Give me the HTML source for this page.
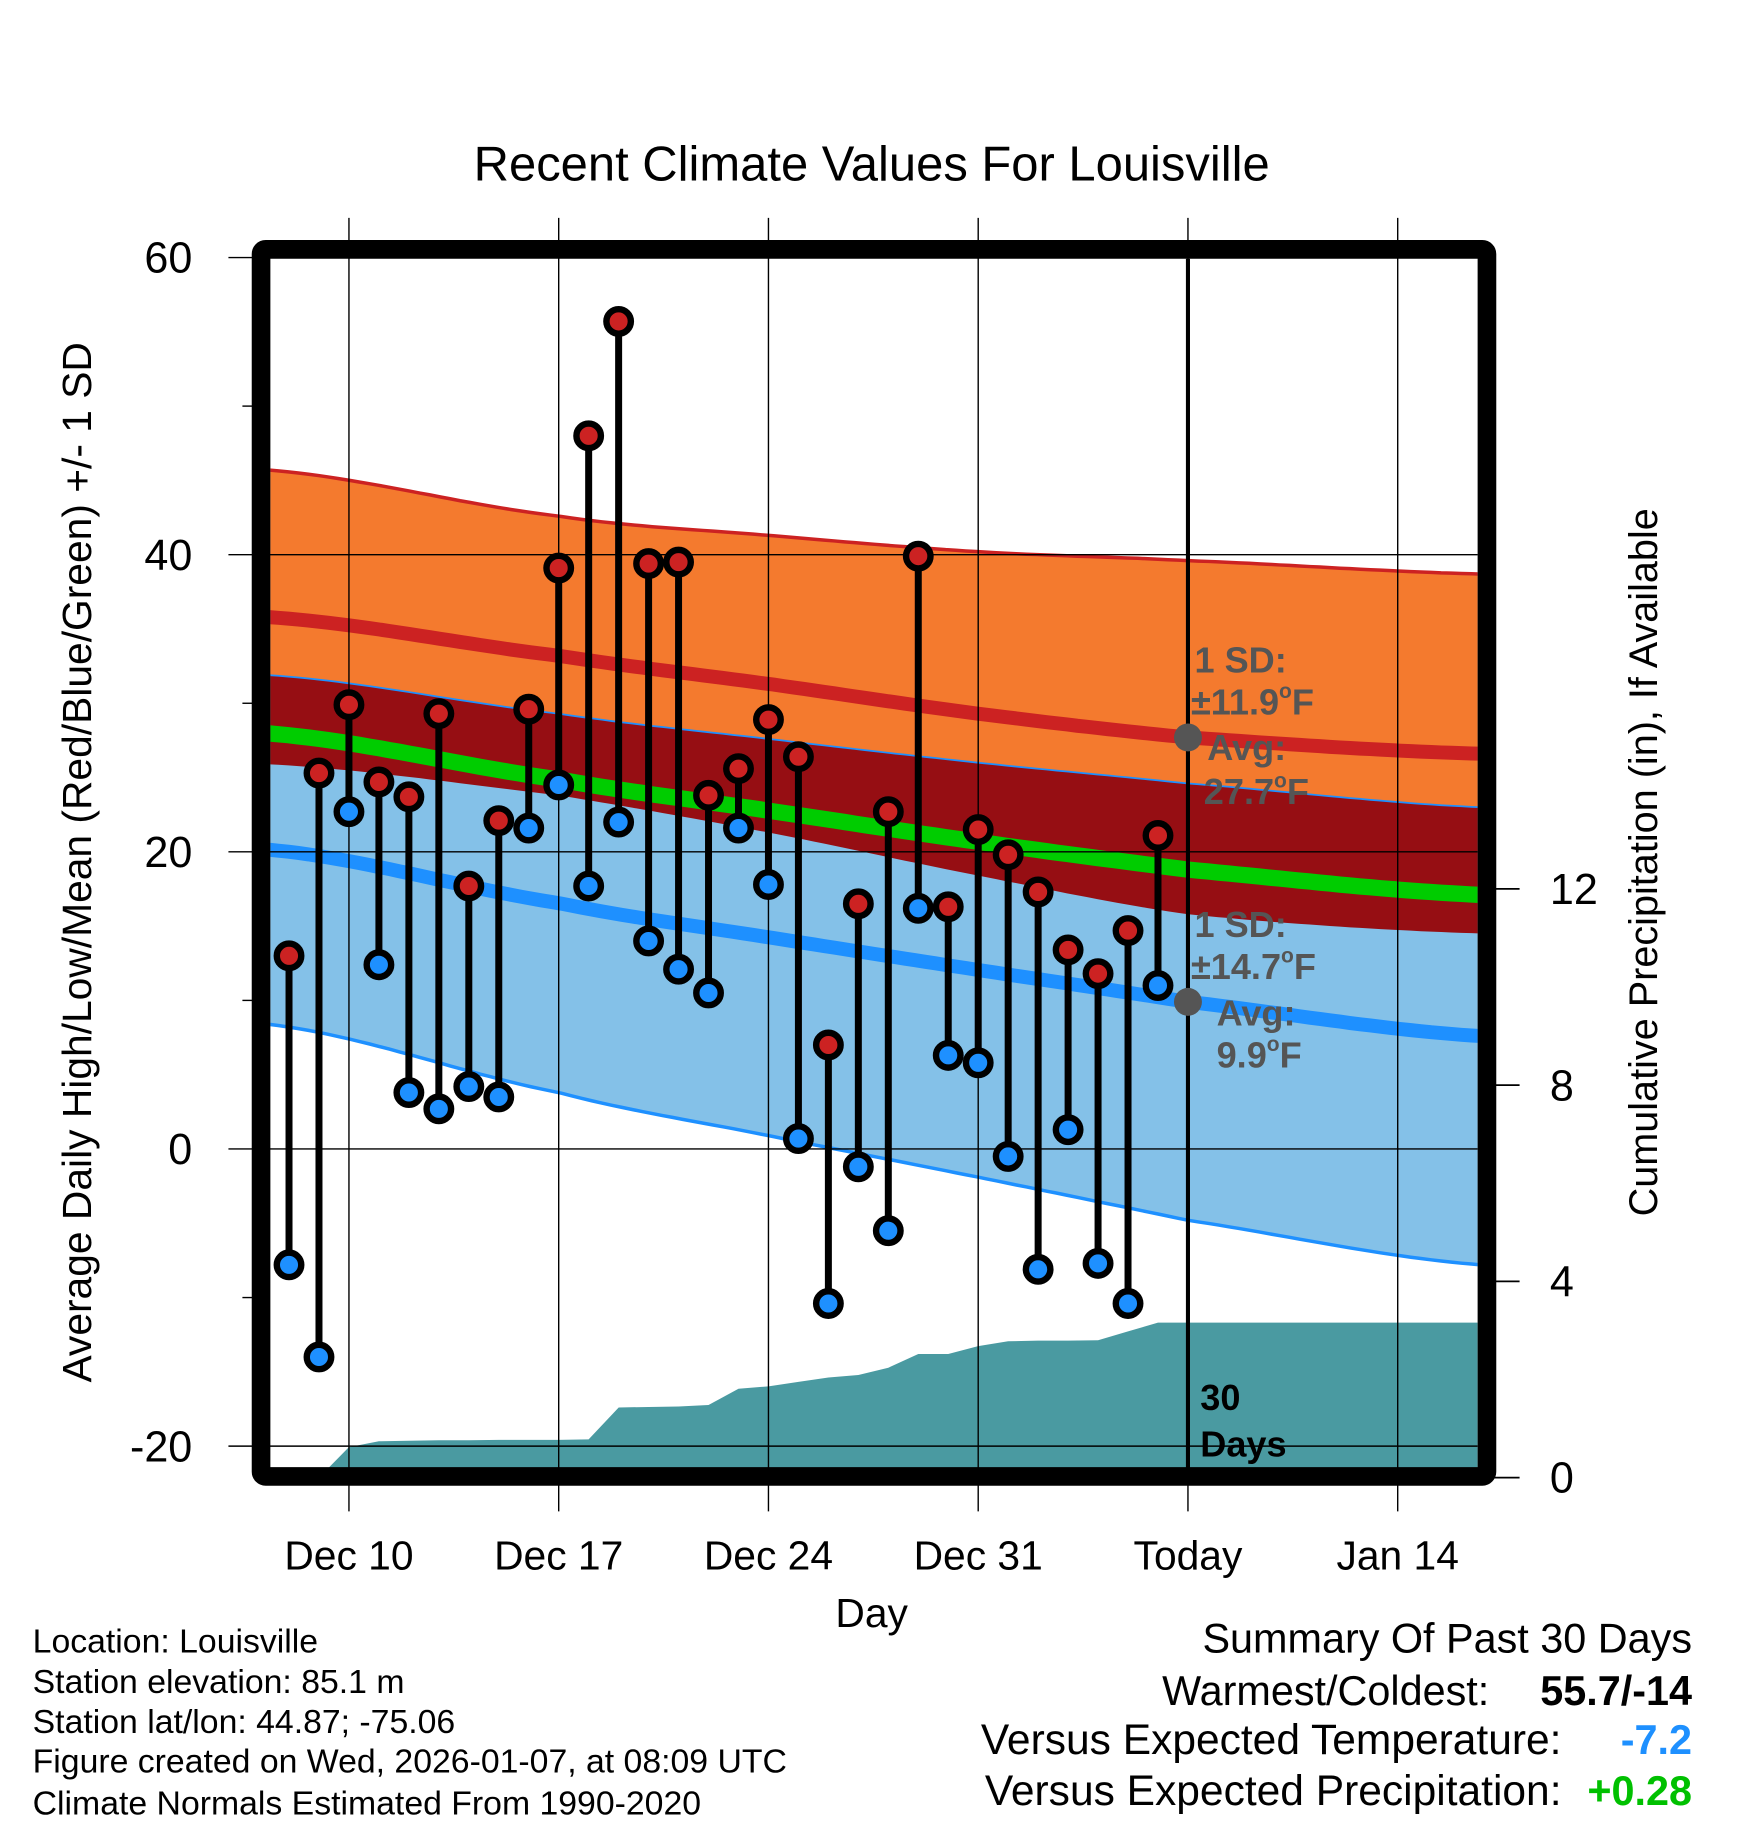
<!DOCTYPE html>
<html><head><meta charset="utf-8"><title>Recent Climate Values For Louisville</title>
<style>html,body{margin:0;padding:0;background:#fff}svg{display:block;font-family:"Liberation Sans",sans-serif}</style>
</head><body>
<svg id="chart" xmlns="http://www.w3.org/2000/svg" width="1748" height="1828" viewBox="0 0 1500 1568.7">
<rect x="0" y="0" width="1500" height="1568.7" fill="#fff"/>
</svg>
<script>
// ---- data ----
const dayLabels = ["Dec 8","Dec 9","Dec 10","Dec 11","Dec 12","Dec 13","Dec 14","Dec 15","Dec 16","Dec 17","Dec 18","Dec 19","Dec 20","Dec 21","Dec 22","Dec 23","Dec 24","Dec 25","Dec 26","Dec 27","Dec 28","Dec 29","Dec 30","Dec 31","Jan 1","Jan 2","Jan 3","Jan 4","Jan 5","Jan 6"];
const highs = [13.0,25.3,29.9,24.7,23.7,29.3,17.7,22.1,29.6,39.1,48.0,55.7,39.4,39.5,23.8,25.6,28.9,26.4,7.0,16.5,22.7,39.9,16.3,21.5,19.8,17.3,13.4,11.8,14.7,21.1];
const lows = [-7.8,-14.0,22.7,12.4,3.8,2.7,4.2,3.5,21.6,24.5,17.7,22.0,14.0,12.1,10.5,21.6,17.8,0.7,-10.4,-1.2,-5.5,16.2,6.3,5.8,-0.5,-8.1,1.3,-7.7,-10.4,11.0];
const precipCum = [0,0.62,0.74,0.75,0.76,0.76,0.77,0.77,0.77,0.78,1.43,1.44,1.45,1.48,1.81,1.86,1.95,2.04,2.09,2.24,2.52,2.52,2.68,2.78,2.79,2.79,2.80,2.98,3.16];
// precipCum indexed from Dec 9 (day offset 1)
const normDays = [-0.7,9,16,23,30,39.8];   // day offsets from Dec 8
const normHigh = [35.8,33.2,31.3,29.3,27.7,26.6];
const normHighSD = [9.9,9.4,10.0,10.9,11.9,12.1];
const normLow = [20.15,16.55,14.25,12.05,9.9,7.6];
const normLowSD = [11.75,12.75,13.35,13.95,14.7,15.4];
const yTicks = [60,40,20,0,-20];
const yMinor = [50,30,10,-10];
const pTicks = [0,4,8,12];
const xTickDays = [2,9,16,23,30,37];
const xTickLabels = ["Dec 10","Dec 17","Dec 24","Dec 31","Today","Jan 14"];
const todayDay = 30;

// ---- scales ----
const X0=232,X1=1268,Y0=222,Y1=1260;
const xs = d => 248 + d*25.714;
const ys = t => 986 - t*12.75;
const yp = p => 1268 - p*42.1;

const NS="http://www.w3.org/2000/svg";
const svg=document.getElementById('chart');
function mk(tag,attrs,parent){const e=document.createElementNS(NS,tag);for(const k in attrs)e.setAttribute(k,attrs[k]);(parent||svg).appendChild(e);return e;}

// smooth interpolation (Catmull-Rom) over normDays
function interp(vals,d){
  const n=normDays.length;
  let i=0; while(i<n-2 && d>normDays[i+1]) i++;
  const t=(d-normDays[i])/(normDays[i+1]-normDays[i]);
  const p0=vals[Math.max(i-1,0)],p1=vals[i],p2=vals[i+1],p3=vals[Math.min(i+2,n-1)];
  const m1=(p2-p0)/2,m2=(p3-p1)/2;
  const t2=t*t,t3=t2*t;
  return (2*t3-3*t2+1)*p1+(t3-2*t2+t)*m1+(-2*t3+3*t2)*p2+(t3-t2)*m2;
}
const samples=[];
for(let k=0;k<=120;k++) samples.push(normDays[0]+(normDays[normDays.length-1]-normDays[0])*k/120);
const hM=d=>interp(normHigh,d), hS=d=>interp(normHighSD,d), lM=d=>interp(normLow,d), lS=d=>interp(normLowSD,d);

const defs=mk('defs',{});
const cp=mk('clipPath',{id:'clip'},defs);
mk('rect',{x:X0,y:Y0,width:X1-X0,height:Y1-Y0},cp);
const g=mk('g',{'clip-path':'url(#clip)'});



function pts(f){return samples.map(d=>xs(d).toFixed(1)+','+ys(f(d)).toFixed(1));}
function bandPath(topF,botF){return 'M'+pts(topF).concat(pts(botF).reverse()).join('L')+'Z';}
function linePath(f){return 'M'+pts(f).join('L');}

let e;
e=mk('path',{d:bandPath(d=>hM(d)+hS(d),d=>hM(d)-hS(d)),fill:'#f47a2e'},g);


e=mk('path',{d:bandPath(d=>lM(d)+lS(d),d=>lM(d)-lS(d)),fill:'#84c1e8'},g);


e=mk('path',{d:bandPath(d=>lM(d)+lS(d),d=>hM(d)-hS(d)),fill:'#960e13'},g);


e=mk('path',{d:linePath(d=>lM(d)+lS(d)),fill:'none',stroke:'#1e90ff','stroke-width':1.5},g);


e=mk('path',{d:linePath(d=>hM(d)+hS(d)),fill:'none',stroke:'#cc2222','stroke-width':3},g);


e=mk('path',{d:linePath(d=>lM(d)-lS(d)),fill:'none',stroke:'#1e90ff','stroke-width':3},g);


e=mk('path',{d:linePath(hM),fill:'none',stroke:'#cc2222','stroke-width':12},g);


e=mk('path',{d:linePath(lM),fill:'none',stroke:'#1e90ff','stroke-width':12},g);


e=mk('path',{d:linePath(d=>(hM(d)+lM(d))/2),fill:'none',stroke:'#00cc00','stroke-width':14},g);



// precip area
let pp='M'+xs(1.4).toFixed(1)+','+Y1;
precipCum.forEach((p,i)=>{pp+='L'+xs(i+1).toFixed(1)+','+yp(p).toFixed(1);});
pp+='L'+X1+','+yp(precipCum[precipCum.length-1]).toFixed(1)+'L'+X1+','+Y1+'Z';
e=mk('path',{d:pp,fill:'#4a9aa1'},g);



// gridlines
xTickDays.forEach(d=>{
  e=mk('line',{x1:xs(d),x2:xs(d),y1:187,y2:1297,stroke:'#000','stroke-width':1.2});
  
  
});
yTicks.forEach(t=>{
  e=mk('line',{x1:196,x2:X1,y1:ys(t),y2:ys(t),stroke:'#000','stroke-width':1.2});
  
  
  e=mk('text',{x:165,y:ys(t)+13,'font-size':37,'text-anchor':'end',fill:'#000'});
  e.textContent=String(t);
  
  
});
yMinor.forEach(t=>{
  e=mk('line',{x1:208,x2:220,y1:ys(t),y2:ys(t),stroke:'#000','stroke-width':1.2});
  
  
});
pTicks.forEach(p=>{
  e=mk('line',{x1:1280,x2:1304,y1:yp(p),y2:yp(p),stroke:'#000','stroke-width':1.5});
  
  
  e=mk('text',{x:1330,y:yp(p)+13,'font-size':37,fill:'#000'});
  e.textContent=String(p);
  
  
});
xTickDays.forEach((d,i)=>{
  e=mk('text',{x:xs(d),y:1347,'font-size':35,'text-anchor':'middle',fill:'#000'});
  e.textContent=xTickLabels[i];
  
  
});

// today line
e=mk('line',{x1:xs(todayDay),x2:xs(todayDay),y1:Y0,y2:Y1,stroke:'#000','stroke-width':3.5});



// stems and dots
highs.forEach((h,i)=>{
  const x=xs(i);
  e=mk('line',{x1:x,x2:x,y1:ys(h),y2:ys(lows[i]),stroke:'#000','stroke-width':6});
  
  
});
highs.forEach((h,i)=>{
  const x=xs(i);
  e=mk('circle',{cx:x,cy:ys(h),r:10.5,fill:'#cc2222',stroke:'#000','stroke-width':5.5});
  
  
  e=mk('circle',{cx:x,cy:ys(lows[i]),r:10.5,fill:'#1e90ff',stroke:'#000','stroke-width':5.5});
  
  
});

// today averages
e=mk('circle',{cx:xs(todayDay),cy:ys(hM(todayDay)),r:12,fill:'#555'});


e=mk('circle',{cx:xs(todayDay),cy:ys(lM(todayDay)),r:12,fill:'#555'});



// frame
e=mk('rect',{x:224,y:214,width:1052,height:1053,fill:'none',stroke:'#000','stroke-width':16,rx:4});


</script>
<svg style="position:absolute;left:0;top:0" width="1748" height="1828" viewBox="0 0 1500 1568.7" font-family="Liberation Sans, sans-serif">
<text x="748" y="155" font-size="42" text-anchor="middle">Recent Climate Values For Louisville</text>
<text transform="translate(78,740) rotate(-90)" font-size="35" text-anchor="middle">Average Daily High/Low/Mean (Red/Blue/Green) +/- 1 SD</text>
<text transform="translate(1422,740) rotate(-90)" font-size="34" text-anchor="middle">Cumulative Precipitation (in), If Available</text>
<text x="748" y="1396" font-size="35" text-anchor="middle">Day</text>
<g font-size="31" font-weight="bold" fill="#555">
<text x="1025" y="577">1 SD:</text>
<text x="1022" y="613">±11.9<tspan font-size="18" dy="-14">o</tspan><tspan dy="14">F</tspan></text>
<text x="1036" y="652">Avg:</text>
<text x="1033" y="690">27.7<tspan font-size="18" dy="-14">o</tspan><tspan dy="14">F</tspan></text>
</g>
<g font-size="31" font-weight="bold" fill="#555">
<text x="1025" y="804">1 SD:</text>
<text x="1022" y="840">±14.7<tspan font-size="18" dy="-14">o</tspan><tspan dy="14">F</tspan></text>
<text x="1044" y="880">Avg:</text>
<text x="1044" y="916">9.9<tspan font-size="18" dy="-14">o</tspan><tspan dy="14">F</tspan></text>
</g>
<text x="1030" y="1210" font-size="31" font-weight="bold" fill="#000">30</text>
<text x="1030" y="1250" font-size="31" font-weight="bold" fill="#000">Days</text>
<g font-size="29" fill="#000">
<text x="28" y="1418">Location: Louisville</text>
<text x="28" y="1453">Station elevation: 85.1 m</text>
<text x="28" y="1487">Station lat/lon: 44.87; -75.06</text>
<text x="28" y="1521">Figure created on Wed, 2026-01-07, at 08:09 UTC</text>
<text x="28" y="1557">Climate Normals Estimated From 1990-2020</text>
</g>
<g font-size="35.5" fill="#000">
<text x="1452" y="1418" text-anchor="end">Summary Of Past 30 Days</text>
<text x="1278" y="1463" text-anchor="end">Warmest/Coldest:</text>
<text x="1452" y="1463" text-anchor="end" font-weight="bold">55.7/-14</text>
<text x="1340" y="1505" text-anchor="end" font-size="36.5">Versus Expected Temperature:</text>
<text x="1452" y="1505" text-anchor="end" font-weight="bold" fill="#1e90ff">-7.2</text>
<text x="1340" y="1549" text-anchor="end" font-size="36.5">Versus Expected Precipitation:</text>
<text x="1452" y="1549" text-anchor="end" font-weight="bold" fill="#00c000">+0.28</text>
</g>
</svg>
</body></html>
